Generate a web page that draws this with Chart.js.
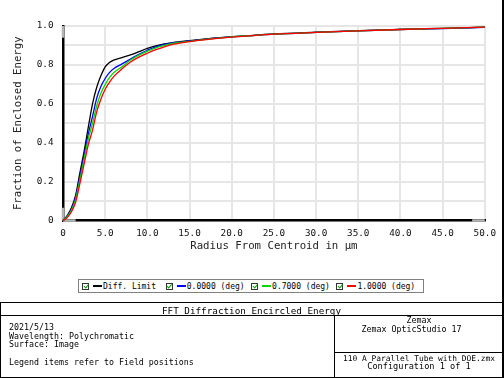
<!DOCTYPE html>
<html>
<head>
<meta charset="utf-8">
<script src="https://cdn.jsdelivr.net/npm/chart.js@4.4.1/dist/chart.umd.min.js"></script>
<style>
  html, body { margin: 0; padding: 0; background: #fff; }
  #wrap { position: relative; width: 504px; height: 378px; overflow: hidden;
          font-family: "DejaVu Sans Mono", monospace; color: #000; }
  #chart { position: absolute; left: 0; top: 0; }
  #edge { position: absolute; left: 502px; top: 0; width: 2px; height: 378px; background: #000; }
  #legend { position: absolute; left: 78px; top: 279px; width: 346px; height: 14px;
            box-sizing: border-box; border: 1px solid #808080;
            display: flex; align-items: center; padding-left: 3px; font-size: 8px; }
  .item { display: flex; align-items: center; white-space: pre; }
  .chk { width: 7px; height: 7px; box-sizing: border-box; border: 1px solid #333; position: relative; }
  .chk::after { content: ''; position: absolute; left: 1.5px; top: -0.5px; width: 1.5px; height: 3.5px;
                border-right: 1.5px solid #00a000; border-bottom: 1.5px solid #00a000; transform: rotate(40deg); }
  .swatch { width: 9px; height: 1.5px; margin: 0 1px 0 4px; }
  .box { position: absolute; box-sizing: border-box; }
  .rule { position: absolute; background: #000; }
  .t { position: absolute; line-height: 10px; white-space: pre; font-size: 8.3px; }
</style>
</head>
<body>
<div id="wrap">
  <canvas id="chart" width="504" height="270"></canvas>
  <div id="edge"></div>
  <div id="legend"></div>

  <div class="box" style="left:0;top:302px;width:503px;height:76px;border:1px solid #000;"></div>
  <div class="rule" style="left:0;top:315px;width:503px;height:1px;"></div>
  <div class="rule" style="left:334px;top:315px;width:1px;height:63px;"></div>
  <div class="rule" style="left:334px;top:352px;width:169px;height:1px;"></div>

  <div class="t" style="left:0;width:503px;text-align:center;top:305.5px;font-size:9.3px;">FFT Diffraction Encircled Energy</div>
  <div class="t" style="left:9px;top:321.5px;">2021/5/13</div>
  <div class="t" style="left:9px;top:330.5px;">Wavelength: Polychromatic</div>
  <div class="t" style="left:9px;top:338.5px;">Surface: Image</div>
  <div class="t" style="left:9px;top:356.5px;">Legend items refer to Field positions</div>
  <div class="t" style="left:335px;width:168px;text-align:center;top:315px;">Zemax</div>
  <div class="t" style="left:335px;width:153px;text-align:center;top:324px;">Zemax OpticStudio 17</div>
  <div class="t" style="left:335px;width:168px;text-align:center;top:353.5px;font-size:7.9px;">110 A Parallel Tube with DOE.zmx</div>
  <div class="t" style="left:335px;width:168px;text-align:center;top:360.5px;font-size:8.6px;">Configuration 1 of 1</div>
</div>

<script>
// Radius from centroid (µm)
const radius = [0, 0.5, 1, 1.5, 2, 2.5, 3, 3.5, 4, 4.5, 5, 5.5, 6, 7, 8, 9, 10, 11, 12, 13, 15, 17.5, 20, 22.5, 25, 30, 35, 40, 45, 50];

// Fraction of enclosed energy per series
const diffLimit = [0, 0.025, 0.065, 0.13, 0.245, 0.355, 0.48, 0.6, 0.685, 0.745, 0.79, 0.812, 0.825, 0.838, 0.851, 0.868, 0.885, 0.898, 0.908, 0.915, 0.925, 0.936, 0.945, 0.952, 0.959, 0.968, 0.976, 0.983, 0.988, 0.994];
const field0000 = [0, 0.022, 0.058, 0.12, 0.225, 0.335, 0.445, 0.535, 0.63, 0.69, 0.73, 0.76, 0.78, 0.805, 0.83, 0.855, 0.875, 0.893, 0.905, 0.913, 0.923, 0.935, 0.944, 0.951, 0.958, 0.967, 0.975, 0.982, 0.987, 0.993];
const field0700 = [0, 0.02, 0.053, 0.11, 0.21, 0.315, 0.42, 0.5, 0.59, 0.655, 0.7, 0.735, 0.76, 0.79, 0.825, 0.85, 0.87, 0.888, 0.9, 0.91, 0.921, 0.934, 0.944, 0.951, 0.958, 0.967, 0.975, 0.982, 0.988, 0.994];
const field1000 = [0, 0.015, 0.045, 0.095, 0.19, 0.29, 0.39, 0.465, 0.56, 0.625, 0.675, 0.71, 0.74, 0.78, 0.815, 0.84, 0.86, 0.878, 0.893, 0.905, 0.92, 0.933, 0.943, 0.951, 0.958, 0.967, 0.975, 0.982, 0.988, 0.994];

const seriesNames = ['Diff. Limit ', '0.0000 (deg)', '0.7000 (deg)', '1.0000 (deg)'];
const seriesColors = ['#000000', '#0000ff', '#00dc00', '#ff0000'];
const seriesValues = [diffLimit, field0000, field0700, field1000];

// Build the HTML legend
const legend = document.getElementById('legend');
seriesNames.forEach((name, i) => {
    const item = document.createElement('div');
    item.className = 'item';
    item.style.marginRight = i === 0 ? '5px' : '6.5px';
    item.innerHTML = '<span class="chk"></span><span class="swatch" style="background:' + seriesColors[i] + '"></span>' + name;
    legend.appendChild(item);
});

// Grey "scroll" ends on the axis lines
const axisEnds = {
    id: 'axisEnds',
    beforeDatasetsDraw(chart) {
        const { ctx, scales: { x, y } } = chart;
        ctx.save();
        ctx.strokeStyle = '#b4b4b4';
        ctx.lineWidth = 2.5;
        ctx.beginPath();
        ctx.moveTo(x.left, y.getPixelForValue(1)); ctx.lineTo(x.left, y.getPixelForValue(0.94));
        ctx.moveTo(x.left, y.getPixelForValue(0.065)); ctx.lineTo(x.left, y.getPixelForValue(0));
        ctx.moveTo(x.getPixelForValue(0), y.bottom); ctx.lineTo(x.getPixelForValue(1.5), y.bottom);
        ctx.moveTo(x.getPixelForValue(48.5), y.bottom); ctx.lineTo(x.getPixelForValue(50), y.bottom);
        ctx.stroke();
        ctx.restore();
    }
};

// red ends up on top, black underneath
const datasets = seriesValues.map((vals, i) => ({
    label: seriesNames[i].trim(),
    data: radius.map((r, k) => ({ x: r, y: vals[k] })),
    borderColor: seriesColors[i],
    borderWidth: 1.3,
    pointRadius: 0,
    fill: false,
    cubicInterpolationMode: 'monotone',
    clip: false,
    order: seriesValues.length - i
}));

const tickFont = { family: 'DejaVu Sans Mono', size: 9.3 };
const titleFont = { family: 'DejaVu Sans Mono', size: 10.7 };

new Chart(document.getElementById('chart').getContext('2d'), {
    type: 'line',
    data: { datasets },
    plugins: [axisEnds],
    options: {
        responsive: false,
        animation: false,
        layout: { padding: { top: 26, right: 18, left: 0, bottom: 0 } },
        plugins: { legend: { display: false }, tooltip: { enabled: false } },
        scales: {
            x: {
                type: 'linear',
                min: 0, max: 50,
                afterFit: scale => { scale.height = 49.5; },
                grid: { color: '#e6e6e6', lineWidth: 2, drawTicks: false },
                border: { color: '#000', width: 2.5 },
                ticks: {
                    stepSize: 5, autoSkip: false, maxRotation: 0, padding: 8,
                    color: '#111', font: tickFont,
                    callback: v => v === 0 ? '0' : v.toFixed(1)
                },
                title: { display: true, text: 'Radius From Centroid in µm', color: '#222', font: titleFont,
                         padding: { top: 0, bottom: 17 } }
            },
            y: {
                min: 0, max: 1,
                afterFit: scale => { scale.width = 63; },
                grid: { color: '#e6e6e6', lineWidth: 2, drawTicks: false },
                border: { color: '#000', width: 2.5 },
                ticks: {
                    stepSize: 0.1, autoSkip: false, padding: 9.5,
                    color: '#111', font: tickFont,
                    callback: v => {
                        const k = Math.round(v * 10);
                        if (k % 2) return '';
                        return k === 0 ? '0' : (k / 10).toFixed(1);
                    }
                },
                title: { display: true, text: 'Fraction of Enclosed Energy', color: '#222', font: titleFont,
                         padding: { top: 11.5, bottom: 0 } }
            }
        }
    }
});
</script>
</body>
</html>
